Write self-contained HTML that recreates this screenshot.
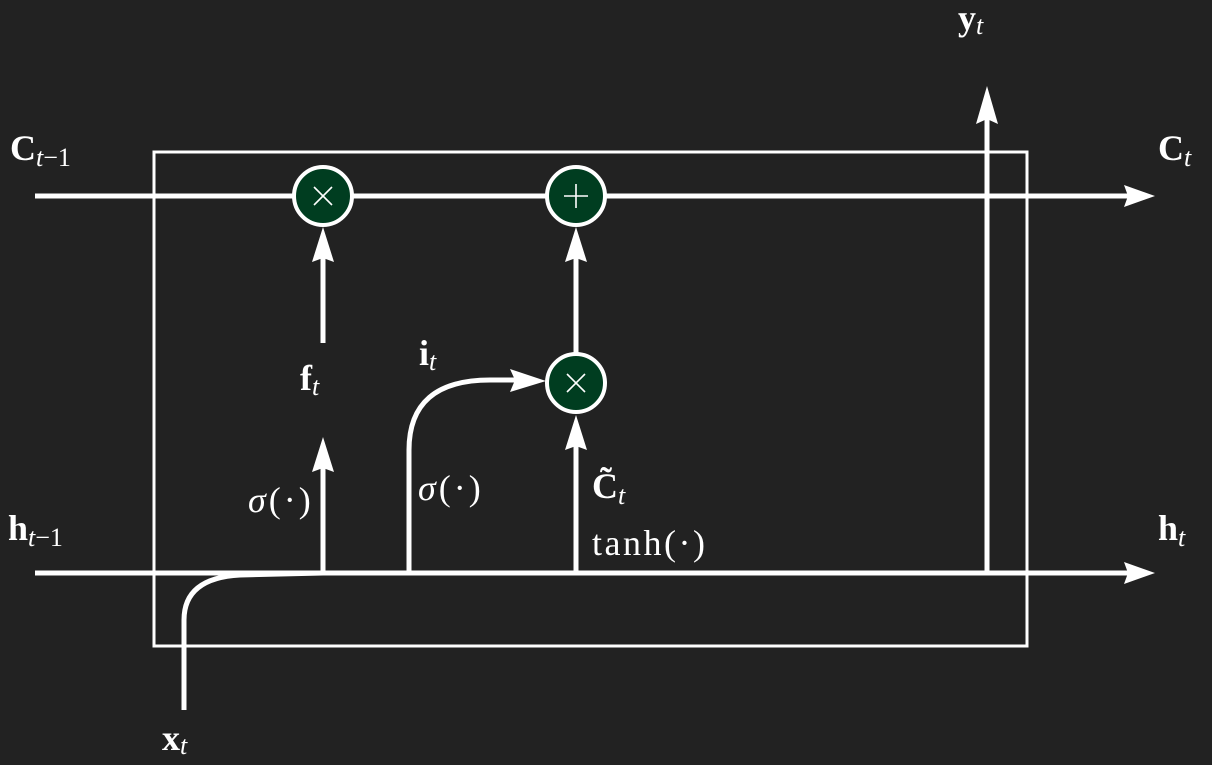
<!DOCTYPE html>
<html><head><meta charset="utf-8"><style>
html,body{margin:0;padding:0;background:#222222;}
svg{display:block}
text{font-family:"Liberation Serif",serif;fill:#fff;}
.b{font-weight:bold;}
.i{font-style:italic;}
</style></head><body>
<svg width="1212" height="765" viewBox="0 0 1212 765">
<rect width="1212" height="765" fill="#222222"/>
<g stroke="#fff" fill="none">
<rect x="154" y="152" width="873" height="494" stroke-width="3"/>
<line x1="35" y1="196" x2="1130" y2="196" stroke-width="5"/>
<line x1="35" y1="573" x2="1130" y2="573" stroke-width="5"/>
<line x1="987" y1="573" x2="987" y2="110" stroke-width="5"/>
<line x1="323" y1="343" x2="323" y2="250" stroke-width="5"/>
<line x1="323" y1="573" x2="323" y2="460" stroke-width="5"/>
<line x1="576" y1="573" x2="576" y2="440" stroke-width="5"/>
<line x1="576" y1="355" x2="576" y2="250" stroke-width="5"/>
<path d="M184 710 L184 620 Q184 578 240 575 L323 573" stroke-width="5"/>
<path d="M409 573 L409 450 Q409 380 490 380 L522 380" stroke-width="5"/>
</g>
<g fill="#fff">
<polygon points="1155,196 1124,185 1128,196 1124,207"/>
<polygon points="1155,573 1124,562 1128,573 1124,584"/>
<polygon points="987,86 976,124 987,119 998,124"/>
<polygon points="323,227 312,262 323,258 334,262"/>
<polygon points="323,437 312,472 323,468 334,472"/>
<polygon points="576,227 565,262 576,258 587,262"/>
<polygon points="576,415 565,450 576,446 587,450"/>
<polygon points="546,381 510,369 515,380 510,392"/>
</g>
<g stroke="#fff" stroke-width="4" fill="#003d20">
<circle cx="323" cy="196" r="29"/>
<circle cx="576" cy="196" r="29"/>
<circle cx="576" cy="383" r="29"/>
</g>
<g stroke="#fff" stroke-width="1.6">
<line x1="314" y1="187" x2="332" y2="205"/><line x1="332" y1="187" x2="314" y2="205"/>
<line x1="567" y1="374" x2="585" y2="392"/><line x1="585" y1="374" x2="567" y2="392"/>
<line x1="564" y1="196" x2="588" y2="196"/><line x1="576" y1="184" x2="576" y2="208"/>
</g>
<g font-size="36">
<text x="10" y="160"><tspan class="b">C</tspan><tspan class="i" font-size="26" dy="6">t</tspan><tspan font-size="26">−1</tspan></text>
<text x="1158" y="160"><tspan class="b">C</tspan><tspan class="i" font-size="26" dy="6">t</tspan></text>
<text x="958" y="30"><tspan class="b">y</tspan><tspan class="i" font-size="26" dy="4">t</tspan></text>
<text x="8" y="540"><tspan class="b">h</tspan><tspan class="i" font-size="26" dy="6">t</tspan><tspan font-size="26">−1</tspan></text>
<text x="1158" y="540"><tspan class="b">h</tspan><tspan class="i" font-size="26" dy="6">t</tspan></text>
<text x="162" y="750"><tspan class="b">x</tspan><tspan class="i" font-size="26" dy="4">t</tspan></text>
<text x="300" y="390"><tspan class="b">f</tspan><tspan class="i" font-size="26" dy="5">t</tspan></text>
<text x="419" y="365"><tspan class="b">i</tspan><tspan class="i" font-size="26" dy="5">t</tspan></text>
<text x="248" y="512" letter-spacing="3"><tspan class="i">σ</tspan>(·)</text>
<text x="418" y="500" letter-spacing="3"><tspan class="i">σ</tspan>(·)</text>
<text x="592" y="498"><tspan class="b">C̃</tspan><tspan class="i" font-size="26" dy="6">t</tspan></text>
<text x="592" y="555" letter-spacing="2.5">tanh(·)</text>
</g>
</svg>
</body></html>
